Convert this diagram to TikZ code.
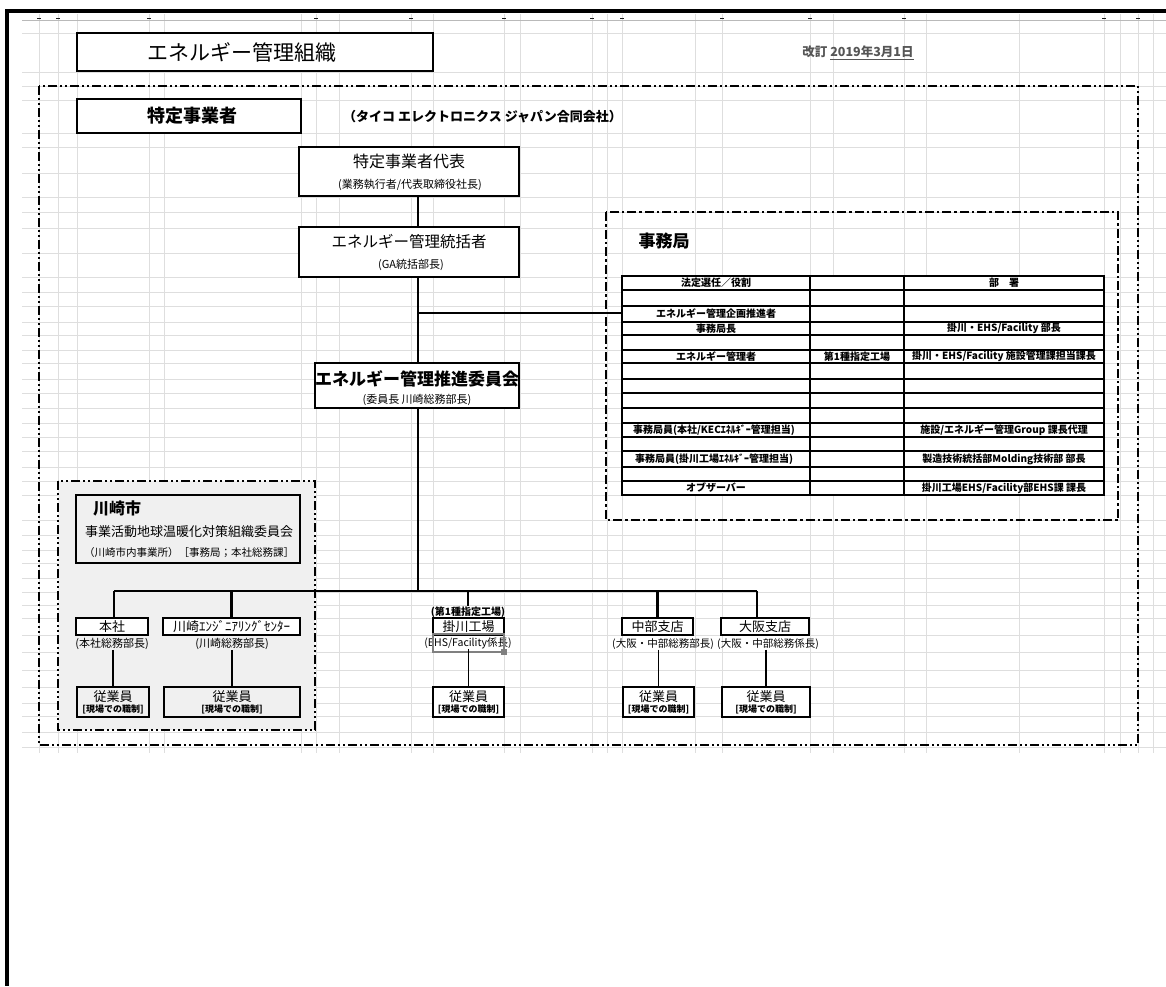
\documentclass[tikz,border=0pt]{standalone}
\usepackage{fontspec}
\setmainfont{Noto Sans CJK JP}
\usepackage{xcolor}
\usepackage{tikz}

\definecolor{gridgray}{HTML}{DEDEDE}
\definecolor{cellgray}{HTML}{F0F0F0}
\definecolor{selgray}{HTML}{808080}
\definecolor{dategray}{HTML}{555555}
\newcommand{\fsz}[1]{\fontsize{#1}{#1}\selectfont}

\tikzset{
  box/.style={draw, line width=2pt, fill=white, inner sep=0pt},
  branchbox/.style={draw, line width=2.5pt, fill=white, inner sep=0pt, minimum height=17},
  empbox/.style={draw, line width=1.2pt, fill=white, inner sep=0pt, minimum height=30, align=center},
  lbl/.style={inner sep=0pt},
  link/.style={line width=2.5pt},
  thinlink/.style={line width=1.2pt},
  outerline/.style={line width=2.2pt, dash pattern=on 9pt off 3pt on 2pt off 3pt on 2pt off 3pt},
  innerline/.style={line width=2.2pt, dash pattern=on 9pt off 3pt on 2.5pt off 3pt},
}

\begin{document}
\begin{tikzpicture}[x=1pt,y=-1pt]
\useasboundingbox (0,0) rectangle (1166,986);

\foreach \gy in {33,72,86,100,133,147,173,197,212,228,253,277,292,306,322,335,350,363,379,393,408,423,437,451,467,481,495,520,535,550,563,578,592,605,618,635,652,670,687,703,716,732,747}
  \draw[gridgray, line width=0.8pt] (22,\gy)--(1166,\gy);
\foreach \gx in {39,58,77,149,164,301,316,339,411,433,504,520,592,607,622,695,722,810,833,904,926,1019,1104,1120,1138,1153}
  \draw[gridgray, line width=0.8pt] (\gx,14)--(\gx,753);
\draw[gray!55, line width=1.5pt] (22,20.5)--(1166,20.5);
\foreach \gx in {39,58,149,316,411,504,592,622,722,810,904,1104,1138}
  \draw[gray!20!black, line width=1pt] (\gx-2,18)--(\gx+2,18);

\draw[line width=3.5pt] (1166,11)--(7,11)--(7,986);

\node[box, minimum width=356, minimum height=38] (title) at (255,52) {};
\node[lbl] (titleT) at (242,52) {\fsz{21}エネルギー管理組織};
\node[lbl, text=dategray, font=\bfseries] (revdate) at (858,53) {\fsz{12.5}改訂 \underline{2019年3月1日}};

\draw[outerline] (39,86) rectangle (1138,745);

\node[box, minimum width=224, minimum height=34] (tokutei) at (189,116) {};
\node[lbl] (tokuteiT) at (192,116) {\fsz{18}\bfseries 特定事業者};
\node[lbl, anchor=west] (company) at (343,117) {\fsz{13}\bfseries （タイコ エレクトロニクス ジャパン合同会社）};

\node[box, minimum width=220, minimum height=49] (daihyo) at (409,171.5) {};
\node[lbl] (daihyoT) at (409,161) {\fsz{16}特定事業者代表};
\node[lbl] (daihyoS) at (410,185) {\fsz{11}(業務執行者/代表取締役社長)};

\node[box, minimum width=220, minimum height=50] (tokatsu) at (409,252) {};
\node[lbl] (tokatsuT) at (409,242) {\fsz{15.5}エネルギー管理統括者};
\node[lbl] (tokatsuS) at (411,265) {\fsz{11}(GA統括部長)};

\node[box, minimum width=204, minimum height=45] (iinkai) at (417,385.5) {};
\node[lbl] (iinkaiT) at (417,379) {\fsz{17}\bfseries エネルギー管理推進委員会};
\node[lbl] (iinkaiS) at (417,400) {\fsz{11}(委員長 川崎総務部長)};

\coordinate (trunk) at (418,0);
\coordinate (tblW) at (622,313);
\coordinate (busL) at (114,591);
\coordinate (busR) at (757,591);

\draw[link] (daihyo.south -| trunk)--(tokatsu.north -| trunk);
\draw[link] (tokatsu.south -| trunk)--(iinkai.north -| trunk);
\draw[link] (iinkai.south -| trunk)--(trunk |- busL);
\draw[line width=2pt] (tblW -| trunk)--(tblW);

\draw[innerline] (606,212) rectangle (1118,520);
\node[lbl] (jimu) at (664,241) {\fsz{17}\bfseries 事務局};

\fill[white] (622,276) rectangle (1104,495);
\foreach \ry in {306,322,335,350,363,379,393,408,423,437,451,467,481}
  \draw[line width=1.2pt] (622,\ry)--(1104,\ry);
\draw[line width=1.2pt] (810,276)--(810,495);
\draw[line width=1.2pt] (904,276)--(904,495);
\draw[line width=2.2pt] (622,290)--(1104,290);
\draw[line width=2.2pt] (622,276) rectangle (1104,495);

\begin{scope}[font=\fsz{10}\bfseries]
\node[lbl] (h0) at (716,283) {法定選任／役割};
\node[lbl] (h2) at (1004,283) {部　署};
\node[lbl] (r1) at (716,314) {エネルギー管理企画推進者};
\node[lbl] (r2) at (716,328.5) {事務局長};
\node[lbl] (r2b) at (1004,328.5) {掛川・EHS/Facility 部長};
\node[lbl] (r3) at (716,356.5) {エネルギー管理者};
\node[lbl] (r3a) at (857,356.5) {第1種指定工場};
\node[lbl] (r3b) at (1004,356.5) {掛川・EHS/Facility 施設管理課担当課長};
\node[lbl] (r4) at (714,430) {事務局員(本社/KECｴﾈﾙｷﾞｰ管理担当)};
\node[lbl] (r4b) at (1004,430) {施設/エネルギー管理Group 課長代理};
\node[lbl] (r5) at (714,459) {事務局員(掛川工場ｴﾈﾙｷﾞｰ管理担当)};
\node[lbl] (r5b) at (1004,459) {製造技術統括部Molding技術部 部長};
\node[lbl] (r6) at (716,488) {オブザーバー};
\node[lbl] (r6b) at (1004,488) {掛川工場EHS/Facility部EHS課 課長};
\end{scope}

\fill[cellgray] (58,481) rectangle (315,730);
\draw[outerline] (58,481) rectangle (315,730);
\node[draw, line width=2pt, inner sep=0pt, minimum width=224, minimum height=68] (kawasaki) at (188,529) {};
\node[lbl, anchor=west] (kawasakiT) at (93,508) {\fsz{16}\bfseries 川崎市};
\node[lbl] (kawasakiS) at (189,532) {\fsz{13}事業活動地球温暖化対策組織委員会};
\node[lbl] (kawasakiN) at (189,553) {\fsz{10.5}（川崎市内事業所）［事務局；本社総務課］};

\node[branchbox, minimum width=72] (honsha) at (112,626.5) {\fsz{13}本社};
\node[branchbox, minimum width=137] (kec) at (231.5,626.5) {\fsz{13}川崎ｴﾝｼﾞﾆｱﾘﾝｸﾞｾﾝﾀｰ};
\node[branchbox, minimum width=71] (kakegawa) at (468.5,626.5) {\fsz{13}掛川工場};
\node[branchbox, minimum width=71] (chubu) at (657.5,626.5) {\fsz{13}中部支店};
\node[branchbox, minimum width=88] (osaka) at (765,626.5) {\fsz{13}大阪支店};

\node[lbl] (kakegawaU) at (468,612) {\fsz{10}\bfseries (第1種指定工場)};
\node[lbl] (honshaS) at (112,644) {\fsz{11}(本社総務部長)};
\node[lbl] (kecS) at (232,644) {\fsz{11}(川崎総務部長)};
\node[lbl] (kakegawaS) at (468,643) {\fsz{10.5}(EHS/Facility係長)};
\node[lbl] (chubuS) at (663,644) {\fsz{10.5}(大阪・中部総務部長)};
\node[lbl] (osakaS) at (768,644) {\fsz{10.5}(大阪・中部総務係長)};
\draw[selgray, line width=2pt] (433,634) rectangle (504,652);
\fill[selgray] (501,649) rectangle (507,655);

\draw[link] (busL)--(busR);
\draw[link] (honsha.north -| busL)--(busL);
\draw[link] (kec.north)--(kec.north |- busL);
\draw[link] (kakegawaU.north)--(kakegawaU.north |- busL);
\draw[link] (chubu.north)--(chubu.north |- busL);
\draw[link] (osaka.north -| busR)--(busR);

\foreach \nm/\cx/\w in {emp3/468.5/71, emp4/658.5/71, emp5/766/88}
  \node[empbox, minimum width=\w] (\nm) at (\cx,702) {\fsz{13}従業員\\[-1pt]\fsz{9}\bfseries [現場での職制]};
\foreach \nm/\cx/\w in {emp1/113/72, emp2/232/136}
  \node[empbox, fill=cellgray, minimum width=\w] (\nm) at (\cx,702) {\fsz{13}従業員\\[-1pt]\fsz{9}\bfseries [現場での職制]};

\draw[thinlink] (emp1.north |- honshaS.south)--(emp1.north);
\draw[thinlink] (emp2.north |- kecS.south)--(emp2.north);
\draw[thinlink] (emp3.north |- kakegawaS.south)--(emp3.north);
\draw[thinlink] (emp4.north |- chubuS.south)--(emp4.north);
\draw[thinlink] (emp5.north |- osakaS.south)--(emp5.north);

\end{tikzpicture}
\end{document}
